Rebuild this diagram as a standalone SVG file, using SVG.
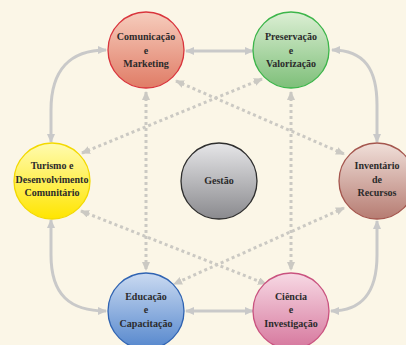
<svg xmlns="http://www.w3.org/2000/svg" width="406" height="345" viewBox="0 0 406 345">
<defs>
<style>
.solid{fill:none;stroke:#c9c9c9;stroke-width:3;marker-start:url(#ah);marker-end:url(#ah)}
.dot{fill:none;stroke:#cbc9c3;stroke-width:3;stroke-dasharray:3 3;marker-start:url(#ah2);marker-end:url(#ah2)}
.lbl{font-family:"Liberation Serif","Times New Roman",serif;font-weight:bold;font-size:10px;fill:#2b2b2b;text-anchor:middle}
.node{stroke-width:1.3}
</style>
<marker id="ah" markerUnits="userSpaceOnUse" markerWidth="9" markerHeight="8" refX="8" refY="4" orient="auto-start-reverse"><path d="M0,0 L9,4 L0,8 z" fill="#c9c9c9"/></marker>
<marker id="ah2" markerUnits="userSpaceOnUse" markerWidth="9" markerHeight="8" refX="8" refY="4" orient="auto-start-reverse"><path d="M0,0 L9,4 L0,8 z" fill="#cbc9c3"/></marker>
<linearGradient id="gRed" x1="0" y1="0" x2="0" y2="1"><stop offset="0" stop-color="#f6cdbd"/><stop offset="1" stop-color="#e07c66"/></linearGradient>
<linearGradient id="gGreen" x1="0" y1="0" x2="0" y2="1"><stop offset="0" stop-color="#dcefd4"/><stop offset="1" stop-color="#7ebf79"/></linearGradient>
<linearGradient id="gYellow" x1="0" y1="0" x2="0" y2="1"><stop offset="0" stop-color="#fffbb0"/><stop offset="1" stop-color="#ffe500"/></linearGradient>
<linearGradient id="gGray" x1="0" y1="0" x2="0" y2="1"><stop offset="0" stop-color="#e6e6e8"/><stop offset="1" stop-color="#8a8a8e"/></linearGradient>
<linearGradient id="gBrown" x1="0" y1="0" x2="0" y2="1"><stop offset="0" stop-color="#f0dfd9"/><stop offset="1" stop-color="#b67c72"/></linearGradient>
<linearGradient id="gBlue" x1="0" y1="0" x2="0" y2="1"><stop offset="0" stop-color="#cadaf1"/><stop offset="1" stop-color="#5587cd"/></linearGradient>
<linearGradient id="gPink" x1="0" y1="0" x2="0" y2="1"><stop offset="0" stop-color="#f7d9e4"/><stop offset="1" stop-color="#d6779d"/></linearGradient>
</defs>
<rect width="406" height="345" fill="#fbf6e7"/>
<g id="connectors">
<path class="solid" d="M186,51 L253,51"/>
<path class="solid" d="M186,311 L253,311"/>
<path class="solid" d="M106,50 C70,50 51,70 51,110 L51,142"/>
<path class="solid" d="M332,50 C365,50 377,70 377,105 L377,142"/>
<path class="solid" d="M51,220 L51,255 C51,295 70,311 106,311"/>
<path class="solid" d="M377,221 L377,255 C377,295 360,311 331,311"/>
<path class="dot" d="M146,92 L146,270"/>
<path class="dot" d="M291,92 L291,270"/>
<path class="dot" d="M176,81 L344,154"/>
<path class="dot" d="M262,79 L82,153"/>
<path class="dot" d="M81,211 L266,284"/>
<path class="dot" d="M344,208 L174,284"/>
</g>
<g id="comunicacao">
<circle class="node" cx="146" cy="50" r="38" fill="url(#gRed)" stroke="#d9343c"/>
<text class="lbl" x="146" y="40">Comunicação</text>
<text class="lbl" x="146" y="53.5">e</text>
<text class="lbl" x="146" y="67">Marketing</text>
</g>
<g id="preservacao">
<circle class="node" cx="291" cy="50" r="38" fill="url(#gGreen)" stroke="#3cb54a"/>
<text class="lbl" x="291" y="40">Preservação</text>
<text class="lbl" x="291" y="53.5">e</text>
<text class="lbl" x="291" y="67">Valorização</text>
</g>
<g id="turismo">
<circle class="node" cx="52" cy="181" r="38" fill="url(#gYellow)" stroke="#f3d900"/>
<text class="lbl" x="52" y="169">Turismo e</text>
<text class="lbl" x="52" y="183">Desenvolvimento</text>
<text class="lbl" x="52" y="196">Comunitário</text>
</g>
<g id="gestao">
<circle class="node" cx="219" cy="181" r="38" fill="url(#gGray)" stroke="#2e2e2e"/>
<text class="lbl" x="219" y="184">Gestão</text>
</g>
<g id="inventario">
<circle class="node" cx="377" cy="181" r="38" fill="url(#gBrown)" stroke="#a4564e"/>
<text class="lbl" x="377" y="169">Inventário</text>
<text class="lbl" x="377" y="183">de</text>
<text class="lbl" x="377" y="196">Recursos</text>
</g>
<g id="educacao">
<circle class="node" cx="146" cy="311" r="38" fill="url(#gBlue)" stroke="#2f63b2"/>
<text class="lbl" x="146" y="299.5">Educação</text>
<text class="lbl" x="146" y="313">e</text>
<text class="lbl" x="146" y="326.5">Capacitação</text>
</g>
<g id="ciencia">
<circle class="node" cx="291" cy="311" r="38" fill="url(#gPink)" stroke="#c9527f"/>
<text class="lbl" x="291" y="299.5">Ciência</text>
<text class="lbl" x="291" y="313">e</text>
<text class="lbl" x="291" y="326.5">Investigação</text>
</g>
</svg>
